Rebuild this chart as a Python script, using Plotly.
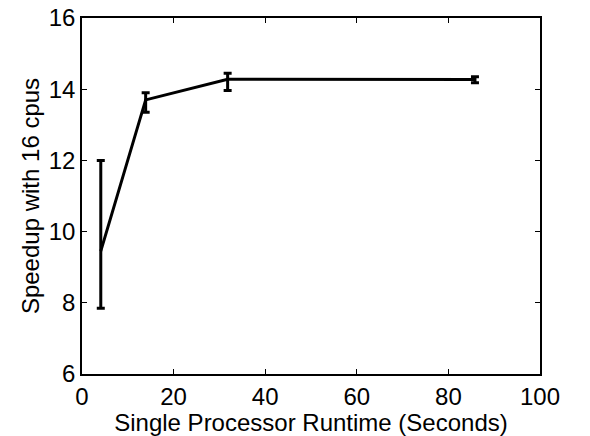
import plotly.graph_objects as go

runtime = [4.1, 13.9, 31.8, 85.8]
speedup = [9.45, 13.7, 14.28, 14.27]
err_plus = [2.55, 0.2, 0.17, 0.08]
err_minus = [1.6, 0.35, 0.32, 0.09]

x_ticks = [0, 20, 40, 60, 80, 100]
y_ticks = [6, 8, 10, 12, 14, 16]

fig = go.Figure()
fig.add_trace(go.Scatter(
    x=runtime, y=speedup, mode="lines",
    line=dict(color="black", width=3),
    error_y=dict(type="data", symmetric=False, array=err_plus, arrayminus=err_minus,
                 color="black", thickness=3, width=4),
    showlegend=False,
))

font = dict(family="Liberation Sans, Arial, Helvetica, sans-serif", size=24, color="black")
axis_common = dict(
    showgrid=False, zeroline=False, showline=True, linecolor="black", linewidth=1.5,
    mirror="ticks", ticks="inside", ticklen=5, tickwidth=1, tickcolor="black",
    tickfont=font, automargin=False,
)
fig.update_layout(
    width=590, height=436,
    margin=dict(l=82, r=50, t=18, b=62, autoexpand=False),
    paper_bgcolor="white", plot_bgcolor="white",
    font=font,
    xaxis=dict(range=[0, 100], tickvals=x_ticks, ticklabelstandoff=0,
               title=dict(text="Single Processor Runtime (Seconds)", font=font, standoff=0),
               **axis_common),
    yaxis=dict(range=[6, 16], tickvals=y_ticks, ticklabelstandoff=0,
               title=dict(text="Speedup with 16 cpus", font=font, standoff=2),
               **axis_common),
)
fig.write_html("out.html")
